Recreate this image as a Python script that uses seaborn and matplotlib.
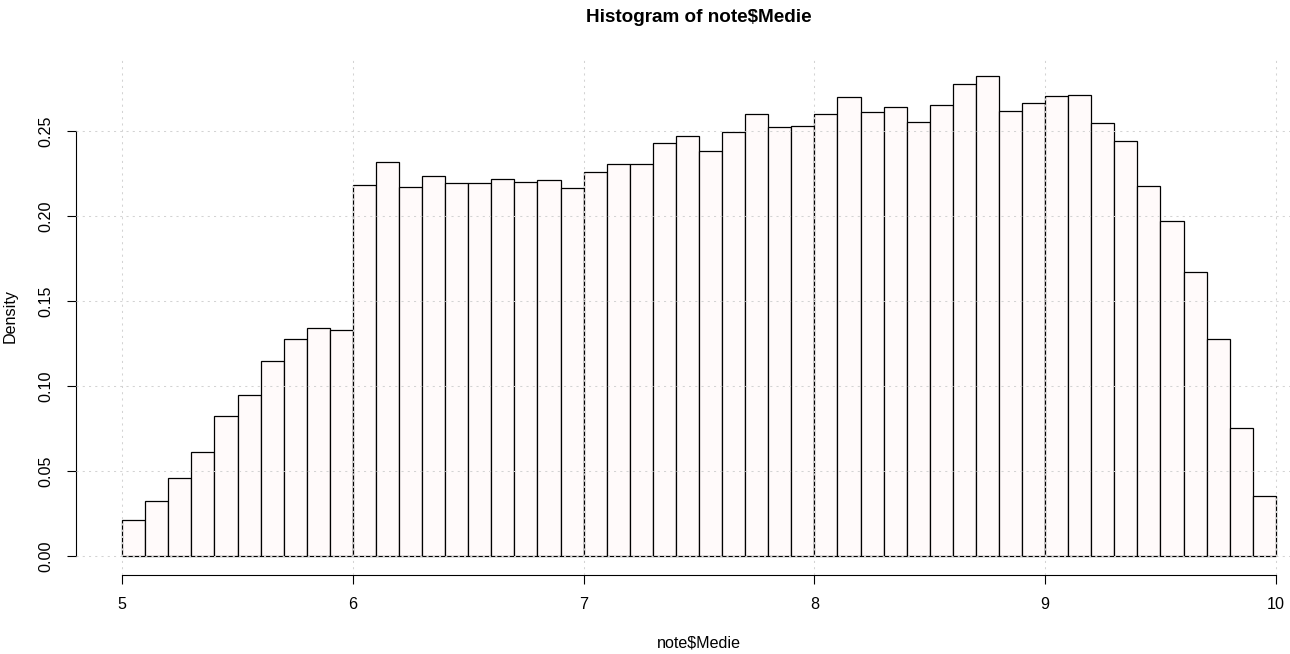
import numpy as np
import pandas as pd
import seaborn as sns
from matplotlib import pyplot as plt

# 50 bins of width 0.1 between 5 and 10
n_bins = 50
bin_range = (5.0, 10.0)
bin_centers = np.round(np.arange(5.05, 10.0, 0.1), 3)

# density of each bin
density = [
    0.0209, 0.0321, 0.0460, 0.0609, 0.0821, 0.0944, 0.1144, 0.1274, 0.1338, 0.1332,
    0.2181, 0.2315, 0.2172, 0.2234, 0.2193, 0.2195, 0.2217, 0.2199, 0.2211, 0.2164,
    0.2258, 0.2304, 0.2306, 0.2431, 0.2472, 0.2381, 0.2493, 0.2599, 0.2521, 0.2532,
    0.2601, 0.2701, 0.2613, 0.2642, 0.2552, 0.2654, 0.2778, 0.2823, 0.2618, 0.2663,
    0.2709, 0.2713, 0.2546, 0.2443, 0.2176, 0.1970, 0.1668, 0.1277, 0.0754, 0.0350,
]

x_ticks = [5, 6, 7, 8, 9, 10]
y_ticks = [0.00, 0.05, 0.10, 0.15, 0.20, 0.25]
y_tick_labels = ["0.00", "0.05", "0.10", "0.15", "0.20", "0.25"]

df = pd.DataFrame({"Medie": bin_centers, "density": density})

sns.set_style("white")
plt.rcParams["font.family"] = ["Liberation Sans", "DejaVu Sans"]
plt.rcParams["text.color"] = "black"

fig = plt.figure(figsize=(12.9, 6.54), dpi=100)
# R plot region: extends a little past the right edge of the device
ax = fig.add_axes([76 / 1290, 79 / 654, 1246 / 1290, 518 / 654])

sns.histplot(data=df, x="Medie", weights="density", bins=n_bins, binrange=bin_range,
             stat="count", color="#FFFAFA", edgecolor="black", linewidth=0.9,
             alpha=1.0, ax=ax, zorder=1)

ymax = max(density)
ax.set_xlim(4.8, 10.2)
ax.set_ylim(-0.04 * ymax, 1.04 * ymax)

# grid drawn on top, like grid() after hist()
for xv in x_ticks:
    ax.axvline(xv, color="#D3D3D3", lw=0.75, ls=(0, (2, 4)), zorder=3)
for yv in y_ticks:
    ax.axhline(yv, color="#D3D3D3", lw=0.75, ls=(0, (2, 4)), zorder=3)

ax.set_xticks(x_ticks)
ax.set_xticklabels([str(v) for v in x_ticks])
ax.set_yticks(y_ticks)
ax.set_yticklabels(y_tick_labels, rotation=90, va="center")
ax.tick_params(axis="both", direction="out", length=6.5, width=0.8, color="black",
               labelsize=11.6, labelcolor="black", pad=9.5,
               bottom=True, left=True)

for side in ["top", "right"]:
    ax.spines[side].set_visible(False)
ax.spines["left"].set_bounds(0, 0.25)
ax.spines["bottom"].set_bounds(5, 10)
for side in ["left", "bottom"]:
    ax.spines[side].set_color("black")
    ax.spines[side].set_linewidth(0.8)

ax.set_xlabel("note$Medie", fontsize=11.6, va="center", color="black")
ax.xaxis.set_label_coords(0.5, (575 - 643) / 518)
ax.set_ylabel("Density", fontsize=11.6, va="center", ha="center", color="black")
ax.yaxis.set_label_coords((10 - 76) / 1246, 0.5)
ax.set_title("Histogram of note$Medie", fontsize=13.6, fontweight="bold",
             y=(575 - 17) / 518, va="center", pad=0, color="black")

plt.savefig("out.png", dpi=100)
plt.close()
